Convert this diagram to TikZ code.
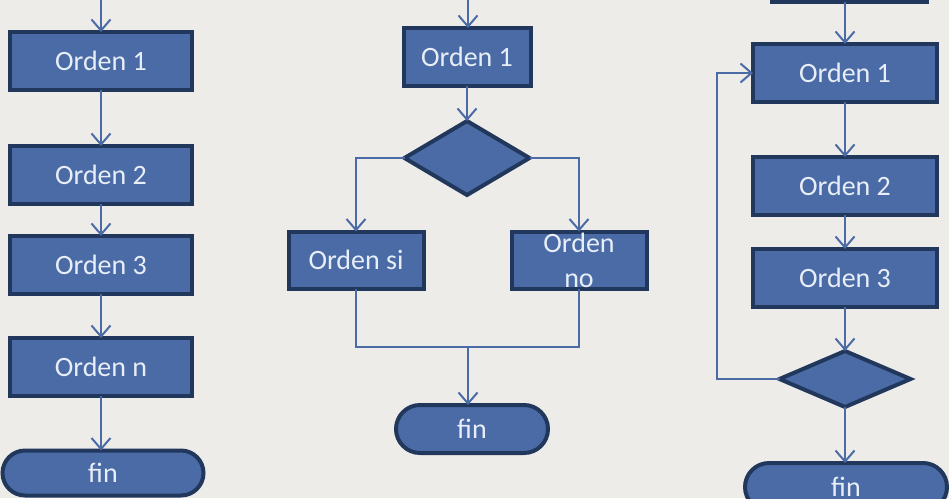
\documentclass[tikz,border=0pt]{standalone}
\usepackage{fontspec}
\setmainfont{Carlito}
\usetikzlibrary{arrows.meta,shapes.geometric}
\definecolor{bg}{HTML}{EEECE9}
\definecolor{boxfill}{HTML}{4A6BA6}
\definecolor{boxline}{HTML}{21385C}
\definecolor{conn}{HTML}{4A6BA6}
\definecolor{txt}{HTML}{E8EEF7}
\tikzset{
  box/.style={draw=boxline, fill=boxfill, line width=4pt, rectangle, inner sep=0pt, outer sep=0pt, text=txt, font=\fontsize{28}{32}\selectfont},
  decision/.style={draw=boxline, fill=boxfill, line width=4pt, diamond, inner sep=0pt, outer sep=0pt},
  term/.style={draw=boxline, fill=boxfill, line width=4pt, rectangle, inner sep=0pt, outer sep=0pt, text=txt, font=\fontsize{28}{32}\selectfont},
  conn/.style={draw=conn, line width=2pt},
  arr/.style={conn, -{Straight Barb[length=11pt,width=19pt,line width=2pt]}}
}
\begin{document}
\begin{tikzpicture}[x=1pt,y=-1pt]
\useasboundingbox (0,0) rectangle (949,498);
\fill[bg] (0,0) rectangle (949,498);
\clip (0,0) rectangle (949,498);
% left column
\coordinate (LT) at (101,-5);
\node[box, minimum width=182pt, minimum height=58pt] (L1) at (101,61) {Orden 1};
\node[box, minimum width=182pt, minimum height=58pt] (L2) at (101,175) {Orden 2};
\node[box, minimum width=182pt, minimum height=58pt] (L3) at (101,265) {Orden 3};
\node[box, minimum width=182pt, minimum height=58pt] (L4) at (101,367) {Orden n};
\node[term, minimum width=201pt, minimum height=45pt, rounded corners=22.5pt] (LF) at (103,473) {fin};
\draw[arr] (LT) -- (L1);
\draw[arr] (L1) -- (L2);
\draw[arr] (L2) -- (L3);
\draw[arr] (L3) -- (L4);
\draw[arr] (L4.south) -- (LF.north -| L4.south);
% middle column
\coordinate (MT) at (468,-5);
\node[box, minimum width=127pt, minimum height=58pt] (M1) at (467,57) {Orden 1};
\node[decision, minimum width=125pt, minimum height=74pt, aspect=1.7] (MD) at (467,158) {};
\node[box, minimum width=135pt, minimum height=57pt] (MS) at (356,260) {Orden si};
\node[box, minimum width=135pt, minimum height=57pt] (MN) at (579,260) {};
\node[text=txt, font=\fontsize{28}{32}\selectfont, anchor=base] (MNa) at (579,252) {Orden};
\node[text=txt, font=\fontsize{28}{32}\selectfont, anchor=base] (MNb) at (579,287) {no};
\coordinate (MJ) at (468,347);
\node[term, minimum width=152pt, minimum height=48pt, rounded corners=24pt] (MF) at (472,429) {fin};
\draw[arr] (MT) -- (M1.north -| MT);
\draw[arr] (M1) -- (MD);
\draw[arr] (MD.west) -| (MS.north);
\draw[arr] (MD.east) -| (MN.north);
\draw[conn] (MS.south) |- (MJ);
\draw[conn] (MN.south) |- (MJ);
\draw[arr] (MJ) -- (MF.north -| MJ);
% right column
\node[box, minimum width=155pt, minimum height=40pt] (R0) at (849,-18) {};
\node[box, minimum width=184pt, minimum height=58pt] (R1) at (845,73) {Orden 1};
\node[box, minimum width=184pt, minimum height=58pt] (R2) at (845,186) {Orden 2};
\node[box, minimum width=184pt, minimum height=58pt] (R3) at (845,278) {Orden 3};
\node[decision, minimum width=131pt, minimum height=56pt, aspect=2.3] (RD) at (845,379) {};
\node[term, minimum width=202pt, minimum height=48pt, rounded corners=24pt] (RF) at (846,487) {fin};
\coordinate (RL) at (717,379);
\draw[arr] (R0.south -| R1.north) -- (R1.north);
\draw[arr] (R1) -- (R2);
\draw[arr] (R2) -- (R3);
\draw[arr] (R3.south) -- (RD.north);
\draw[arr] (RD.south) -- (RF.north -| RD.south);
\draw[arr] (RD.west) -- (RL) |- (R1.west);
\end{tikzpicture}
\end{document}
